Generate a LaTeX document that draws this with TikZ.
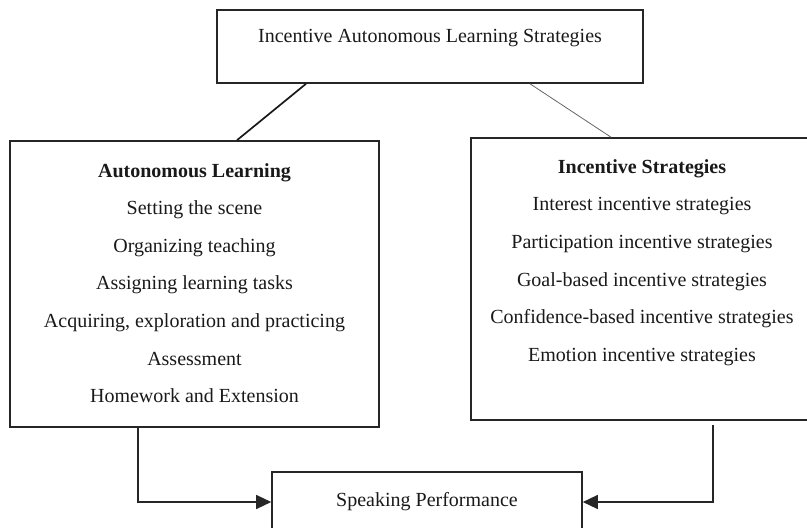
\documentclass[tikz,border=0pt]{standalone}
\usepackage{fontspec}
\setmainfont{Liberation Serif}
\usetikzlibrary{arrows.meta}
\begin{document}
\begin{tikzpicture}[x=1pt,y=-1pt,
  boxstyle/.style={draw=black!85, line width=1.6pt, rectangle, inner sep=0pt},
  txt/.style={font=\fontsize{20}{37.6}\selectfont, align=center, inner sep=0pt, text=black!90},
  conn/.style={line width=1.3pt, draw=black!85, -{Triangle[length=15pt,width=14pt]}}]
\useasboundingbox (0,0) rectangle (807,528);
% boxes
\node[boxstyle, minimum width=426pt, minimum height=73pt] (top) at (430,46.5) {};
\node[txt] (toptext) at (430,38) {Incentive Autonomous Learning Strategies};
\node[boxstyle, minimum width=369pt, minimum height=286pt] (left) at (194.5,284) {};
\node[txt] (lefttext) at (194.5,283) {\textbf{Autonomous Learning}\\Setting the scene\\Organizing teaching\\Assigning learning tasks\\Acquiring, exploration and practicing\\Assessment\\Homework and Extension};
\node[boxstyle, minimum width=342pt, minimum height=282pt] (right) at (642,279) {};
\node[txt] (righttext) at (642,262.5) {\textbf{Incentive Strategies}\\Interest incentive strategies\\Participation incentive strategies\\Goal-based incentive strategies\\Confidence-based incentive strategies\\Emotion incentive strategies};
\node[boxstyle, minimum width=310pt, minimum height=60pt, font=\fontsize{20}{24}\selectfont, text=black!90] (bottom) at (427,502) {Speaking Performance};
% connector x positions
\coordinate (x1) at (306,0);
\coordinate (x2) at (237,0);
\coordinate (x3) at (530,0);
\coordinate (x4) at (611,0);
\coordinate (x5) at (138,0);
\coordinate (x6) at (713,0);
\draw[line width=1.7pt, black!90] (top.south -| x1) -- (left.north -| x2);
\draw[line width=0.8pt, black!60] (top.south -| x3) -- (right.north -| x4);
\draw[conn] (left.south -| x5) |- (bottom.west);
\draw[conn] ([yshift=-4pt]right.south -| x6) |- (bottom.east);
\end{tikzpicture}
\end{document}
